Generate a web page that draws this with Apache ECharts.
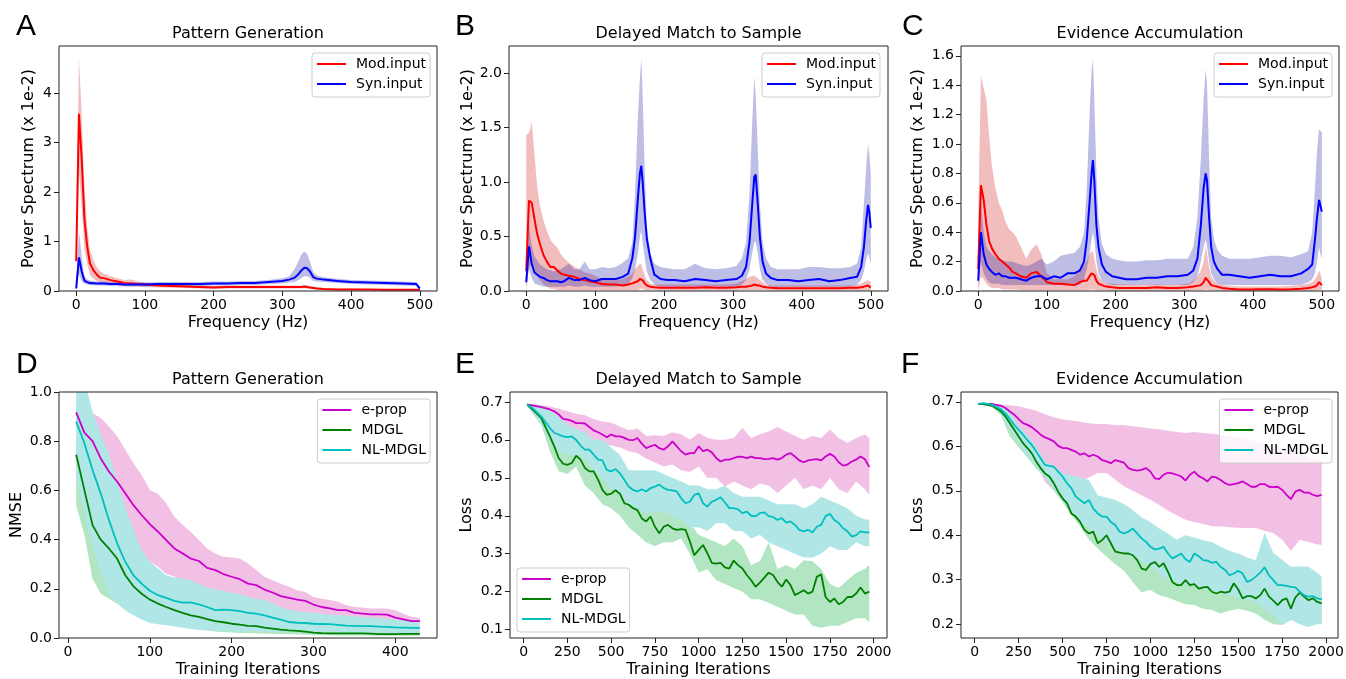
<!DOCTYPE html>
<html><head><meta charset="utf-8">
<script src="https://cdn.jsdelivr.net/npm/echarts@6/dist/echarts.min.js"></script>
<style>html,body{margin:0;padding:0;background:#fff}#chart{width:1346px;height:679px}</style>
</head><body><div id="chart"></div>
<script>
// ---------- Panel A data (Pattern Generation, power spectrum) ----------
const freqA = [0,4,8,12,16,20,25,30,35,40, 50,60,70,80,90,100, 120,140,160,180,200, 220,240,260,280,300, 310,318,324,328,332,336,340,345,350, 360,380,400,425,450,475,495,500];
const modA   = [0.6,3.58,2.68,1.45,0.9,0.56,0.42,0.33,0.27,0.26, 0.22,0.19,0.16,0.15,0.14,0.13, 0.11,0.1,0.09,0.08,0.07, 0.08,0.08,0.08,0.08,0.08, 0.08,0.08,0.08,0.08,0.09,0.08,0.07,0.06,0.05, 0.04,0.03,0.03,0.03,0.025,0.025,0.025,0.02];
const modAhi = [0.7,4.72,3.6,2.1,1.3,0.85,0.62,0.48,0.4,0.35, 0.3,0.26,0.22,0.23,0.19,0.17, 0.14,0.13,0.12,0.11,0.1, 0.11,0.11,0.11,0.11,0.11, 0.11,0.11,0.11,0.11,0.12,0.11,0.1,0.09,0.08, 0.06,0.05,0.05,0.04,0.04,0.04,0.04,0.03];
const modAlo = [0.5,2.45,1.7,0.85,0.55,0.32,0.25,0.2,0.17,0.16, 0.14,0.12,0.1,0.09,0.09,0.08, 0.07,0.065,0.06,0.05,0.045, 0.05,0.05,0.05,0.05,0.05, 0.05,0.05,0.05,0.05,0.06,0.05,0.045,0.04,0.03, 0.02,0.015,0.015,0.015,0.01,0.01,0.01,0.01];
const synA   = [0.05,0.68,0.4,0.21,0.18,0.16,0.155,0.15,0.15,0.15, 0.14,0.14,0.13,0.13,0.13,0.13, 0.14,0.14,0.14,0.14,0.15, 0.15,0.16,0.16,0.18,0.2, 0.23,0.27,0.35,0.42,0.47,0.46,0.4,0.28,0.25, 0.23,0.2,0.18,0.17,0.16,0.15,0.14,0.05];
const synAhi = [0.1,1.22,0.7,0.3,0.23,0.21,0.2,0.19,0.19,0.19, 0.18,0.18,0.17,0.17,0.17,0.17, 0.18,0.18,0.18,0.18,0.19, 0.19,0.2,0.2,0.22,0.26, 0.3,0.45,0.62,0.75,0.8,0.75,0.6,0.38,0.32, 0.28,0.25,0.22,0.21,0.2,0.19,0.18,0.09];
const synAlo = [0.02,0.35,0.2,0.14,0.13,0.12,0.115,0.11,0.11,0.11, 0.1,0.1,0.09,0.09,0.09,0.09, 0.1,0.1,0.1,0.1,0.11, 0.11,0.12,0.12,0.14,0.15, 0.17,0.18,0.22,0.27,0.3,0.3,0.27,0.2,0.19, 0.18,0.16,0.14,0.13,0.12,0.11,0.1,0.02];

// ---------- Panels B and C share a frequency grid ----------
const freqBC = [0,4,8,12,16,20,25,30,35,40,45,50,55,
  62,70,77,85,92,100,110,120,130,140,148,
  154,158,162,165,167,169,172,175,180,186,
  195,205,215,230,245,260,275,290,305,
  313,319,324,328,331,333,336,339,343,348,
  355,365,380,395,410,425,440,455,470,
  480,486,490,493,496,498,500];

const modB = [0.18,0.83,0.81,0.66,0.52,0.43,0.33,0.27,0.22,0.22,0.19,0.16,0.15,
  0.14,0.13,0.11,0.1,0.09,0.08,0.065,0.06,0.06,0.05,0.06,
  0.07,0.08,0.09,0.11,0.12,0.1,0.07,0.05,0.04,0.035,
  0.03,0.03,0.03,0.03,0.03,0.035,0.03,0.03,0.035,
  0.04,0.04,0.045,0.05,0.06,0.06,0.05,0.05,0.04,0.035,
  0.03,0.025,0.025,0.025,0.025,0.025,0.025,0.025,0.03,
  0.03,0.035,0.04,0.045,0.05,0.04,0.03];
const modBhi = [1.43,1.45,1.55,1.25,0.95,0.78,0.65,0.55,0.47,0.43,0.4,0.34,0.3,
  0.26,0.22,0.2,0.17,0.16,0.14,0.11,0.1,0.1,0.11,0.13,
  0.16,0.2,0.23,0.25,0.24,0.2,0.14,0.1,0.07,0.06,
  0.06,0.06,0.06,0.06,0.06,0.06,0.06,0.06,0.07,
  0.09,0.11,0.13,0.14,0.14,0.13,0.12,0.1,0.08,0.06,
  0.05,0.05,0.05,0.05,0.05,0.05,0.05,0.05,0.05,
  0.06,0.07,0.08,0.09,0.1,0.09,0.08];
const modBlo = [0,0.22,0.25,0.2,0.14,0.1,0.06,0.04,0.02,0.02,0.01,0.01,0.01,
  0.01,0.01,0.01,0.01,0.01,0.01,0.01,0.01,0.01,0.01,0.01,
  0.01,0.01,0.01,0.02,0.02,0.02,0.01,0.01,0.01,0.01,
  0.005,0.005,0.005,0.005,0.005,0.005,0.005,0.005,0.005,
  0.01,0.01,0.01,0.01,0.01,0.01,0.01,0.01,0.01,0.01,
  0.005,0.005,0.005,0.005,0.005,0.005,0.005,0.005,0.005,
  0.005,0.005,0.005,0.005,0.005,0.005,0.005];
const synB = [0.08,0.41,0.25,0.17,0.15,0.13,0.12,0.1,0.09,0.09,0.09,0.08,0.09,
  0.12,0.1,0.1,0.12,0.1,0.09,0.11,0.11,0.11,0.13,0.16,
  0.3,0.5,0.85,1.08,1.15,1.0,0.71,0.48,0.3,0.15,
  0.11,0.1,0.1,0.09,0.11,0.1,0.09,0.1,0.11,
  0.14,0.22,0.45,0.8,1.05,1.07,0.8,0.5,0.27,0.16,
  0.12,0.1,0.1,0.09,0.1,0.11,0.09,0.1,0.12,
  0.13,0.22,0.4,0.62,0.79,0.72,0.58];
const synBhi = [0.1,0.6,0.42,0.32,0.28,0.24,0.22,0.2,0.19,0.18,0.19,0.2,0.22,
  0.25,0.2,0.2,0.27,0.2,0.2,0.22,0.21,0.22,0.26,0.3,
  0.45,0.9,1.6,1.95,2.14,1.8,1.1,0.6,0.35,0.25,
  0.22,0.21,0.2,0.2,0.25,0.21,0.2,0.21,0.23,
  0.3,0.45,0.9,1.55,1.97,1.8,1.3,0.8,0.45,0.3,
  0.22,0.2,0.2,0.2,0.22,0.22,0.21,0.21,0.22,
  0.25,0.4,0.8,1.1,1.35,1.25,1.08];
const synBlo = [0.05,0.2,0.12,0.07,0.06,0.05,0.04,0.04,0.04,0.04,0.04,0.04,0.04,
  0.05,0.04,0.04,0.05,0.04,0.04,0.04,0.04,0.04,0.05,0.06,
  0.12,0.2,0.35,0.5,0.55,0.45,0.3,0.18,0.1,0.06,
  0.04,0.04,0.04,0.04,0.04,0.04,0.04,0.04,0.04,
  0.06,0.1,0.2,0.35,0.45,0.45,0.35,0.2,0.1,0.07,
  0.04,0.04,0.04,0.04,0.04,0.04,0.04,0.04,0.04,
  0.06,0.1,0.18,0.28,0.35,0.3,0.25];

const modC = [0.15,0.72,0.62,0.45,0.34,0.29,0.25,0.22,0.2,0.18,0.16,0.13,0.12,
  0.1,0.09,0.12,0.13,0.1,0.06,0.05,0.05,0.045,0.04,0.06,
  0.07,0.07,0.1,0.12,0.13,0.11,0.07,0.05,0.04,0.03,
  0.025,0.02,0.02,0.02,0.02,0.025,0.02,0.02,0.025,
  0.03,0.035,0.04,0.06,0.09,0.085,0.06,0.04,0.035,0.03,
  0.02,0.015,0.01,0.01,0.012,0.012,0.01,0.012,0.015,
  0.02,0.025,0.03,0.04,0.06,0.05,0.04];
const modChi = [0.5,1.46,1.38,1.3,1.05,0.85,0.7,0.6,0.55,0.47,0.42,0.4,0.37,
  0.3,0.22,0.28,0.32,0.25,0.12,0.08,0.08,0.08,0.1,0.15,
  0.18,0.2,0.25,0.27,0.27,0.22,0.15,0.1,0.07,0.05,
  0.05,0.045,0.045,0.04,0.04,0.045,0.04,0.04,0.05,
  0.07,0.1,0.14,0.2,0.3,0.25,0.16,0.1,0.07,0.05,
  0.04,0.035,0.03,0.03,0.03,0.03,0.03,0.035,0.04,
  0.05,0.06,0.08,0.1,0.14,0.12,0.08];
const modClo = [0,0.1,0.08,0.05,0.03,0.02,0.02,0.02,0.01,0.01,0.01,0.01,0.01,
  0.005,0.005,0.005,0.005,0.005,0.005,0.005,0.005,0.005,0.005,0.005,
  0.005,0.005,0.01,0.01,0.01,0.01,0.005,0.005,0.005,0.005,
  0.002,0.002,0.002,0.002,0.002,0.002,0.002,0.002,0.002,
  0.005,0.005,0.005,0.005,0.01,0.01,0.005,0.005,0.005,0.005,
  0.002,0.002,0.002,0.002,0.002,0.002,0.002,0.002,0.002,
  0.002,0.002,0.002,0.005,0.005,0.005,0.005];
const synC = [0.07,0.4,0.25,0.18,0.15,0.13,0.11,0.12,0.1,0.1,0.09,0.09,0.09,
  0.08,0.07,0.09,0.1,0.1,0.08,0.1,0.09,0.12,0.12,0.14,
  0.2,0.35,0.6,0.8,0.89,0.75,0.45,0.3,0.18,0.13,
  0.1,0.09,0.08,0.08,0.09,0.09,0.1,0.1,0.11,
  0.14,0.22,0.45,0.7,0.8,0.75,0.5,0.3,0.2,0.15,
  0.11,0.11,0.1,0.09,0.1,0.11,0.1,0.1,0.12,
  0.15,0.18,0.35,0.5,0.62,0.58,0.54];
const synChi = [0.1,0.6,0.4,0.3,0.27,0.25,0.23,0.22,0.21,0.2,0.2,0.2,0.19,
  0.18,0.17,0.18,0.2,0.22,0.18,0.2,0.24,0.25,0.26,0.3,
  0.4,0.7,1.2,1.5,1.58,1.3,0.8,0.5,0.32,0.25,
  0.22,0.21,0.2,0.2,0.21,0.21,0.22,0.22,0.22,
  0.3,0.5,0.9,1.3,1.51,1.4,0.9,0.5,0.35,0.28,
  0.24,0.22,0.22,0.22,0.23,0.24,0.24,0.23,0.25,
  0.27,0.4,0.7,0.95,1.1,1.09,1.08];
const synClo = [0.04,0.2,0.12,0.08,0.06,0.05,0.05,0.05,0.04,0.04,0.04,0.04,0.04,
  0.04,0.04,0.04,0.04,0.04,0.04,0.04,0.04,0.04,0.04,0.04,
  0.08,0.15,0.25,0.35,0.4,0.35,0.2,0.12,0.07,0.05,
  0.04,0.04,0.04,0.04,0.04,0.04,0.04,0.04,0.04,
  0.06,0.1,0.2,0.3,0.35,0.3,0.2,0.12,0.08,0.05,
  0.04,0.04,0.04,0.04,0.04,0.04,0.04,0.04,0.04,
  0.06,0.08,0.12,0.2,0.3,0.25,0.22];

// ---------- Panel D (NMSE) ----------
const itD = [10,20,30,40,50,60,70,80,90,100,110,120,130,140,150,160,170,180,190,200,210,220,230,240,250,260,270,280,290,300,310,320,330,340,350,360,370,380,390,400,410,420,430];
const ePropD   = [0.917,0.835,0.8,0.73,0.677,0.636,0.588,0.54,0.5,0.463, 0.432,0.398,0.364,0.344,0.323,0.313,0.285,0.276,0.26,0.249, 0.239,0.221,0.215,0.197,0.185,0.17,0.163,0.156,0.151,0.136, 0.126,0.12,0.113,0.113,0.102,0.099,0.096,0.096,0.095,0.083, 0.076,0.069,0.069];
const ePropDhi = [0.93,0.93,0.914,0.894,0.86,0.82,0.765,0.71,0.663,0.602, 0.586,0.548,0.493,0.46,0.432,0.398,0.364,0.344,0.33,0.327, 0.323,0.303,0.276,0.249,0.235,0.221,0.208,0.194,0.187,0.167, 0.16,0.154,0.147,0.133,0.126,0.124,0.12,0.12,0.12,0.113, 0.099,0.086,0.082];
const ePropDlo = [0.9,0.72,0.64,0.57,0.5,0.45,0.41,0.37,0.34,0.31, 0.29,0.26,0.25,0.23,0.22,0.21,0.2,0.19,0.185,0.175, 0.165,0.155,0.145,0.135,0.125,0.115,0.11,0.105,0.1,0.095, 0.09,0.085,0.08,0.075,0.072,0.07,0.07,0.068,0.065,0.062, 0.06,0.058,0.056];
const mdglD    = [0.745,0.602,0.459,0.4,0.364,0.323,0.255,0.21,0.18,0.156, 0.14,0.126,0.113,0.102,0.092,0.086,0.077,0.069,0.064,0.058, 0.054,0.049,0.048,0.042,0.038,0.034,0.031,0.029,0.026,0.022, 0.02,0.019,0.019,0.019,0.019,0.019,0.018,0.016,0.016,0.016, 0.017,0.017,0.017];
const mdglDhi  = [0.95,0.78,0.68,0.62,0.57,0.5,0.385,0.31,0.26,0.23, 0.21,0.19,0.175,0.16,0.145,0.135,0.125,0.115,0.105,0.095, 0.088,0.08,0.076,0.07,0.065,0.06,0.056,0.052,0.048,0.042, 0.038,0.036,0.034,0.033,0.032,0.031,0.03,0.029,0.028,0.028, 0.028,0.027,0.027];
const mdglDlo  = [0.54,0.42,0.24,0.18,0.16,0.14,0.126,0.11,0.1,0.085, 0.07,0.06,0.05,0.045,0.04,0.035,0.03,0.026,0.024,0.022, 0.02,0.02,0.019,0.018,0.017,0.016,0.015,0.014,0.013,0.012, 0.011,0.011,0.01,0.01,0.01,0.01,0.01,0.009,0.009,0.009, 0.009,0.009,0.009];
const nlD      = [0.88,0.792,0.683,0.588,0.48,0.385,0.31,0.255,0.221,0.192, 0.174,0.163,0.151,0.144,0.145,0.137,0.126,0.113,0.115,0.113, 0.109,0.102,0.099,0.092,0.083,0.075,0.065,0.062,0.061,0.058, 0.057,0.056,0.053,0.05,0.049,0.048,0.048,0.046,0.045,0.043, 0.042,0.041,0.041];
const nlDhi    = [1.1,1.05,0.92,0.83,0.75,0.64,0.53,0.44,0.36,0.31, 0.283,0.255,0.246,0.242,0.235,0.221,0.205,0.197,0.192,0.183, 0.18,0.167,0.16,0.154,0.14,0.126,0.115,0.11,0.106,0.102, 0.099,0.095,0.092,0.091,0.088,0.086,0.083,0.08,0.077,0.075, 0.072,0.069,0.068];
const nlDlo    = [0.65,0.507,0.37,0.262,0.18,0.14,0.113,0.092,0.075,0.061, 0.056,0.052,0.048,0.042,0.037,0.034,0.031,0.027,0.027,0.027, 0.026,0.026,0.025,0.025,0.025,0.024,0.024,0.024,0.023,0.023, 0.023,0.022,0.022,0.022,0.022,0.021,0.021,0.021,0.021,0.02, 0.02,0.02,0.02];

// ---------- Panels E and F (Loss) ----------
const itEF = [20,50,100,150,175,200,225,250,275,300,
  325,350,375,400,425,450,475,500,525,550,
  575,600,625,650,675,700,725,750,775,800,
  825,850,875,900,925,950,975,1000,1025,1050,
  1075,1100,1125,1150,1175,1200,1225,1250,1275,1300,
  1325,1350,1375,1400,1425,1450,1475,1500,1525,1550,
  1575,1600,1625,1650,1675,1700,1725,1750,1775,1800,
  1825,1850,1875,1900,1925,1950,1975];
const bandIt = [20,50,100,150,200,250,300,350,400,450,
  500,550,600,650,700,750,800,850,900,950,
  1000,1050,1100,1150,1200,1250,1300,1350,1400,1450,
  1500,1550,1600,1650,1700,1750,1800,1850,1900,1950,
  1975];

const ePropE = [0.693,0.691,0.686,0.68,0.675,0.667,0.655,0.653,0.65,0.644,
  0.644,0.643,0.634,0.625,0.62,0.614,0.607,0.614,0.609,0.609,
  0.605,0.6,0.599,0.605,0.59,0.578,0.583,0.587,0.578,0.574,
  0.583,0.596,0.583,0.57,0.561,0.565,0.565,0.583,0.57,0.574,
  0.567,0.552,0.543,0.548,0.548,0.552,0.556,0.555,0.552,0.556,
  0.552,0.552,0.549,0.55,0.552,0.548,0.552,0.561,0.565,0.556,
  0.546,0.541,0.546,0.548,0.549,0.546,0.556,0.563,0.556,0.541,
  0.532,0.535,0.543,0.548,0.556,0.549,0.528];
const mdglE = [0.693,0.68,0.658,0.609,0.583,0.552,0.537,0.534,0.539,0.558,
  0.548,0.526,0.517,0.517,0.495,0.468,0.455,0.458,0.467,0.458,
  0.433,0.429,0.42,0.415,0.393,0.385,0.398,0.371,0.354,0.371,
  0.376,0.367,0.363,0.365,0.363,0.332,0.296,0.31,0.323,0.301,
  0.276,0.274,0.276,0.264,0.261,0.282,0.27,0.261,0.244,0.23,
  0.213,0.224,0.237,0.25,0.244,0.226,0.213,0.232,0.217,0.191,
  0.197,0.204,0.195,0.2,0.239,0.246,0.186,0.173,0.182,0.167,
  0.173,0.186,0.186,0.195,0.211,0.195,0.2];
const nlE = [0.693,0.684,0.662,0.631,0.618,0.614,0.609,0.607,0.609,0.6,
  0.585,0.574,0.574,0.561,0.548,0.546,0.521,0.517,0.523,0.512,
  0.495,0.477,0.468,0.464,0.47,0.464,0.473,0.477,0.482,0.473,
  0.468,0.467,0.464,0.446,0.433,0.437,0.455,0.459,0.433,0.424,
  0.437,0.442,0.449,0.435,0.42,0.42,0.417,0.407,0.411,0.4,
  0.399,0.407,0.409,0.399,0.397,0.389,0.394,0.382,0.385,0.376,
  0.363,0.359,0.363,0.356,0.371,0.376,0.399,0.405,0.389,0.381,
  0.367,0.359,0.345,0.349,0.359,0.356,0.356];
const ePropEhi = [0.695,0.695,0.692,0.688,0.682,0.675,0.668,0.665,0.655,0.648,
  0.645,0.635,0.625,0.63,0.61,0.612,0.61,0.62,0.615,0.6,
  0.618,0.605,0.6,0.6,0.605,0.631,0.605,0.615,0.622,0.634,
  0.622,0.61,0.6,0.61,0.605,0.627,0.605,0.592,0.605,0.614, 0.605];
const ePropElo = [0.69,0.688,0.68,0.665,0.65,0.635,0.62,0.61,0.6,0.59,
  0.585,0.58,0.57,0.565,0.55,0.54,0.53,0.535,0.52,0.515,
  0.53,0.5,0.5,0.477,0.49,0.48,0.47,0.485,0.48,0.46,
  0.48,0.5,0.47,0.48,0.47,0.5,0.47,0.46,0.49,0.47, 0.455];
const mdglEhi = [0.695,0.69,0.675,0.65,0.6,0.575,0.63,0.57,0.55,0.52,
  0.5,0.49,0.47,0.45,0.43,0.42,0.42,0.41,0.4,0.38,
  0.35,0.34,0.33,0.32,0.34,0.32,0.27,0.28,0.33,0.26,
  0.27,0.26,0.283,0.28,0.26,0.22,0.21,0.23,0.25,0.26, 0.27];
const mdglElo = [0.69,0.67,0.64,0.57,0.517,0.51,0.53,0.48,0.46,0.43,
  0.42,0.4,0.37,0.35,0.33,0.32,0.33,0.33,0.34,0.3,
  0.25,0.26,0.23,0.22,0.21,0.2,0.18,0.18,0.17,0.16,
  0.15,0.14,0.14,0.11,0.105,0.11,0.11,0.12,0.13,0.13, 0.12];
const nlEhi = [0.695,0.693,0.69,0.68,0.66,0.64,0.63,0.62,0.6,0.6,
  0.58,0.56,0.52,0.52,0.52,0.52,0.51,0.5,0.49,0.48,
  0.48,0.47,0.47,0.48,0.46,0.45,0.45,0.45,0.44,0.43,
  0.43,0.43,0.42,0.43,0.45,0.44,0.43,0.42,0.4,0.39, 0.39];
const nlElo = [0.69,0.67,0.64,0.6,0.57,0.56,0.56,0.55,0.52,0.5,
  0.47,0.46,0.43,0.42,0.405,0.41,0.41,0.4,0.39,0.37,
  0.37,0.36,0.38,0.38,0.36,0.36,0.34,0.35,0.33,0.32,
  0.31,0.3,0.29,0.29,0.3,0.32,0.31,0.31,0.33,0.32, 0.32];

const ePropF = [0.695,0.695,0.695,0.691,0.686,0.678,0.671,0.661,0.652,0.648,
  0.643,0.635,0.626,0.62,0.616,0.611,0.601,0.596,0.596,0.592,
  0.588,0.581,0.584,0.577,0.581,0.577,0.569,0.566,0.562,0.569,
  0.566,0.563,0.551,0.547,0.545,0.547,0.551,0.543,0.528,0.526,
  0.536,0.541,0.539,0.536,0.532,0.523,0.536,0.543,0.533,0.528,
  0.521,0.532,0.53,0.524,0.517,0.513,0.515,0.517,0.521,0.515,
  0.509,0.509,0.515,0.515,0.509,0.508,0.509,0.502,0.491,0.481,
  0.498,0.502,0.496,0.496,0.491,0.488,0.491];
const mdglF = [0.695,0.695,0.691,0.678,0.667,0.652,0.637,0.622,0.607,0.596,
  0.584,0.566,0.551,0.539,0.532,0.517,0.498,0.483,0.472,0.449,
  0.442,0.43,0.412,0.404,0.408,0.382,0.389,0.4,0.382,0.363,
  0.361,0.359,0.359,0.355,0.344,0.325,0.322,0.335,0.34,0.329,
  0.337,0.318,0.295,0.288,0.288,0.299,0.288,0.29,0.28,0.283,
  0.284,0.273,0.269,0.273,0.271,0.273,0.292,0.278,0.258,0.263,
  0.263,0.258,0.265,0.28,0.262,0.253,0.243,0.254,0.258,0.235,
  0.26,0.271,0.262,0.254,0.258,0.25,0.247];
const nlF = [0.695,0.697,0.693,0.683,0.674,0.661,0.648,0.637,0.626,0.614,
  0.603,0.588,0.573,0.558,0.556,0.554,0.543,0.532,0.517,0.506,
  0.487,0.479,0.472,0.479,0.46,0.449,0.442,0.442,0.43,0.423,
  0.408,0.404,0.408,0.415,0.404,0.393,0.385,0.374,0.368,0.37,
  0.374,0.359,0.348,0.353,0.359,0.346,0.34,0.359,0.353,0.344,
  0.343,0.338,0.34,0.329,0.322,0.31,0.314,0.32,0.314,0.295,
  0.299,0.307,0.316,0.328,0.31,0.299,0.288,0.288,0.286,0.284,
  0.283,0.273,0.265,0.262,0.263,0.258,0.256];
const ePropFhi = [0.695,0.695,0.695,0.694,0.692,0.69,0.685,0.68,0.672,0.665,
  0.66,0.658,0.655,0.652,0.65,0.65,0.648,0.647,0.645,0.643,
  0.64,0.638,0.635,0.632,0.63,0.632,0.63,0.628,0.626,0.622,
  0.62,0.615,0.61,0.605,0.6,0.595,0.59,0.583,0.575,0.57, 0.566];
const ePropFlo = [0.695,0.694,0.69,0.685,0.67,0.635,0.6,0.56,0.52,0.5,
  0.517,0.515,0.52,0.53,0.54,0.54,0.525,0.51,0.5,0.49,
  0.48,0.468,0.455,0.445,0.435,0.43,0.425,0.42,0.42,0.418,
  0.417,0.416,0.416,0.41,0.405,0.39,0.365,0.39,0.385,0.38, 0.378];
const mdglFhi = [0.696,0.696,0.694,0.685,0.67,0.645,0.62,0.59,0.565,0.545,
  0.515,0.49,0.465,0.445,0.425,0.43,0.4,0.39,0.385,0.365,
  0.37,0.365,0.35,0.325,0.33,0.325,0.315,0.31,0.305,0.31,
  0.31,0.295,0.29,0.31,0.285,0.285,0.27,0.3,0.29,0.28, 0.275];
const mdglFlo = [0.694,0.693,0.688,0.67,0.622,0.598,0.575,0.55,0.53,0.5,
  0.475,0.445,0.42,0.39,0.37,0.352,0.335,0.32,0.295,0.272,
  0.277,0.265,0.26,0.252,0.245,0.243,0.235,0.232,0.224,0.23,
  0.235,0.23,0.224,0.21,0.2,0.198,0.209,0.21,0.21,0.205, 0.2];
const nlFhi = [0.697,0.697,0.697,0.69,0.68,0.645,0.625,0.6,0.565,0.555,
  0.54,0.535,0.53,0.524,0.49,0.485,0.479,0.47,0.457,0.44,
  0.43,0.415,0.404,0.39,0.4,0.395,0.389,0.385,0.374,0.365,
  0.359,0.35,0.344,0.405,0.36,0.345,0.329,0.33,0.329,0.315, 0.307];
const nlFlo = [0.693,0.692,0.688,0.67,0.64,0.61,0.58,0.555,0.53,0.505,
  0.48,0.455,0.43,0.415,0.4,0.385,0.37,0.36,0.35,0.34,
  0.33,0.315,0.3,0.295,0.29,0.285,0.28,0.275,0.27,0.265,
  0.26,0.255,0.25,0.235,0.22,0.2,0.21,0.2,0.194,0.2, 0.2];

// ---------- tick labels ----------
const freqTicks = [0,100,200,300,400,500];
const iterTicksD = [0,100,200,300,400];
const iterTicksEF = [0,250,500,750,1000,1250,1500,1750,2000];
const yTicksA = [0,1,2,3,4];
const yTicksB = [0,0.5,1.0,1.5,2.0];
const yTicksC = [0,0.2,0.4,0.6,0.8,1.0,1.2,1.4,1.6];
const yTicksD = [0,0.2,0.4,0.6,0.8,1.0];
const yTicksE = [0.1,0.2,0.3,0.4,0.5,0.6,0.7];
const yTicksF = [0.2,0.3,0.4,0.5,0.6,0.7];

// ---------- styling ----------
const FONT = 'DejaVu Sans';
const C = {
  red:'#ff0000', blue:'#0000ff', mag:'#cc00cc', green:'#008000', cyan:'#00bfbf',
  redBand:'rgba(212,38,38,0.30)', blueBand:'rgba(50,50,175,0.32)',
  pinkBand:'#f2c0e4', greenBand:'#b2e6c2', cyanBand:'#b0e6e6'
};
const SPINE = '#222';

const panels = [
  {grid:{left:59,top:46,width:378,height:245}, xr:[-25,525], xt:freqTicks, yr:[0,4.95], yt:yTicksA, dec:0,
   xName:'Frequency (Hz)', yName:'Power Spectrum (x 1e-2)', yGap:22, letter:'A', lx:16, ly:27, title:'Pattern Generation', ty:34,
   legend:{right:916, top:53}, names:['Mod.input','Syn.input']},
  {grid:{left:509,top:46,width:379,height:245}, xr:[-25,525], xt:freqTicks, yr:[0,2.25], yt:yTicksB, dec:1,
   xName:'Frequency (Hz)', yName:'Power Spectrum (x 1e-2)', yGap:33, letter:'B', lx:455, ly:27, title:'Delayed Match to Sample', ty:34,
   legend:{right:466, top:53}, names:['Mod.input','Syn.input']},
  {grid:{left:961,top:46,width:378,height:245}, xr:[-25,525], xt:freqTicks, yr:[0,1.667], yt:yTicksC, dec:1,
   xName:'Frequency (Hz)', yName:'Power Spectrum (x 1e-2)', yGap:35, letter:'C', lx:902, ly:27, title:'Evidence Accumulation', ty:34,
   legend:{right:14, top:53}, names:['Mod.input','Syn.input']},
  {grid:{left:59,top:392,width:378,height:246}, xr:[-11,451], xt:iterTicksD, yr:[0,1], yt:yTicksD, dec:1,
   xName:'Training Iterations', yName:'NMSE', yGap:34, letter:'D', lx:16, ly:365, title:'Pattern Generation', ty:380,
   legend:{right:916, top:399}, names:['e-prop','MDGL','NL-MDGL']},
  {grid:{left:510,top:392,width:377,height:246}, xr:[-78,2076], xt:iterTicksEF, yr:[0.078,0.726], yt:yTicksE, dec:1,
   xName:'Training Iterations', yName:'Loss', yGap:35, letter:'E', lx:455, ly:365, title:'Delayed Match to Sample', ty:380,
   legend:{left:517, top:568}, names:['e-prop','MDGL','NL-MDGL']},
  {grid:{left:961,top:392,width:377,height:246}, xr:[-78,2068], xt:iterTicksEF, yr:[0.169,0.722], yt:yTicksF, dec:1,
   xName:'Training Iterations', yName:'Loss', yGap:35, letter:'F', lx:901, ly:365, title:'Evidence Accumulation', ty:380,
   legend:{right:14, top:399}, names:['e-prop','MDGL','NL-MDGL']}
];

function band(gi, xs, lo, hi, color) {
  return {
    type:'custom', name:'band'+gi+color, xAxisIndex:gi, yAxisIndex:gi, clip:true, silent:true, z:2,
    data: xs.map((x,i)=>[x, lo[i], hi[i]]),
    encode:{x:0, y:[1,2]},
    renderItem:(params, api) => {
      if (params.dataIndex !== 0) return null;
      const pts = [];
      for (let i=0;i<xs.length;i++) pts.push(api.coord([xs[i], hi[i]]));
      for (let i=xs.length-1;i>=0;i--) pts.push(api.coord([xs[i], lo[i]]));
      return {type:'polygon', shape:{points:pts}, style:{fill:color, stroke:null}};
    }
  };
}
function line(name, gi, xs, ys, color, w) {
  return {type:'line', name, xAxisIndex:gi, yAxisIndex:gi, data: xs.map((x,i)=>[x, ys[i]]),
    showSymbol:false, symbol:'none', color, lineStyle:{color, width:w}, itemStyle:{color},
    z:3, clip:true, silent:true};
}

const series = [
  band(0, freqA, modAlo, modAhi, C.redBand), band(0, freqA, synAlo, synAhi, C.blueBand),
  line('Mod.input', 0, freqA, modA, C.red, 2), line('Syn.input', 0, freqA, synA, C.blue, 2),
  band(1, freqBC, modBlo, modBhi, C.redBand), band(1, freqBC, synBlo, synBhi, C.blueBand),
  line('Mod.input', 1, freqBC, modB, C.red, 2), line('Syn.input', 1, freqBC, synB, C.blue, 2),
  band(2, freqBC, modClo, modChi, C.redBand), band(2, freqBC, synClo, synChi, C.blueBand),
  line('Mod.input', 2, freqBC, modC, C.red, 2), line('Syn.input', 2, freqBC, synC, C.blue, 2),
  band(3, itD, ePropDlo, ePropDhi, C.pinkBand), band(3, itD, mdglDlo, mdglDhi, C.greenBand), band(3, itD, nlDlo, nlDhi, C.cyanBand),
  line('e-prop', 3, itD, ePropD, C.mag, 1.8), line('MDGL', 3, itD, mdglD, C.green, 1.8), line('NL-MDGL', 3, itD, nlD, C.cyan, 1.8),
  band(4, bandIt, ePropElo, ePropEhi, C.pinkBand), band(4, bandIt, mdglElo, mdglEhi, C.greenBand), band(4, bandIt, nlElo, nlEhi, C.cyanBand),
  line('e-prop', 4, itEF, ePropE, C.mag, 1.8), line('MDGL', 4, itEF, mdglE, C.green, 1.8), line('NL-MDGL', 4, itEF, nlE, C.cyan, 1.8),
  band(5, bandIt, ePropFlo, ePropFhi, C.pinkBand), band(5, bandIt, mdglFlo, mdglFhi, C.greenBand), band(5, bandIt, nlFlo, nlFhi, C.cyanBand),
  line('e-prop', 5, itEF, ePropF, C.mag, 1.8), line('MDGL', 5, itEF, mdglF, C.green, 1.8), line('NL-MDGL', 5, itEF, nlF, C.cyan, 1.8)
];

const txt = {fontFamily:FONT, color:'#000'};
const option = {
  animation:false,
  backgroundColor:'#fff',
  grid: panels.map(p => Object.assign({show:true, borderColor:SPINE, borderWidth:1, backgroundColor:'transparent', containLabel:false, outerBoundsMode:'none', z:4}, p.grid)),
  xAxis: panels.map((p,i) => ({
    type:'value', gridIndex:i, min:p.xr[0], max:p.xr[1],
    axisLine:{show:false, onZero:false},
    axisTick:{show:true, length:5, lineStyle:{color:SPINE, width:1}, customValues:p.xt},
    axisLabel:{show:true, customValues:p.xt, margin:7, fontFamily:FONT, fontSize:14, color:'#000', formatter:v=>String(Math.round(v))},
    splitLine:{show:false},
    name:p.xName, nameLocation:'middle', nameGap:24,
    nameTextStyle:Object.assign({fontSize:16, lineHeight:16}, txt)
  })),
  yAxis: panels.map((p,i) => ({
    type:'value', gridIndex:i, min:p.yr[0], max:p.yr[1],
    axisLine:{show:false, onZero:false},
    axisTick:{show:true, length:5, lineStyle:{color:SPINE, width:1}, customValues:p.yt},
    axisLabel:{show:true, customValues:p.yt, margin:7, fontFamily:FONT, fontSize:14, color:'#000', formatter:v=>v.toFixed(p.dec)},
    splitLine:{show:false},
    name:p.yName, nameLocation:'middle', nameGap:p.yGap,
    nameTextStyle:Object.assign({fontSize:16, lineHeight:16}, txt)
  })),
  legend: panels.map(p => Object.assign({
    orient:'vertical', data:p.names, icon:'rect', itemWidth:29, itemHeight:2, itemGap:4,
    padding:[3,4,5,5], borderColor:'#cccccc', borderWidth:1, borderRadius:3,
    backgroundColor:'rgba(255,255,255,0.8)', selectedMode:false, z:10,
    textStyle:{fontFamily:FONT, fontSize:14, color:'#000', lineHeight:16, padding:[0,0,0,5]}
  }, p.legend)),
  graphic: panels.flatMap(p => [
    {type:'text', x:p.lx, y:p.ly, silent:true, style:{text:p.letter, font:'30px "Liberation Sans", Arial, sans-serif', fill:'#000', align:'left', verticalAlign:'middle', textAlign:'left', textVerticalAlign:'middle'}},
    {type:'text', x:p.grid.left + p.grid.width/2, y:p.ty, silent:true, style:{text:p.title, font:'16px "DejaVu Sans"', fill:'#000', align:'center', verticalAlign:'middle', textAlign:'center', textVerticalAlign:'middle'}}
  ]),
  series
};
const chart = echarts.init(document.getElementById('chart'), null, {renderer:'canvas'});
chart.setOption(option);
</script>
</body></html>
